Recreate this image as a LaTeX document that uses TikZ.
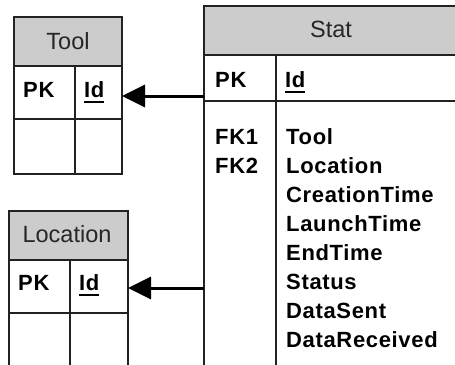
\documentclass[tikz,border=0pt]{standalone}
\usepackage{fontspec}
\setmainfont{Liberation Sans}
\newfontfamily\fldfont{Liberation Sans}[LetterSpace=3]
\usetikzlibrary{arrows.meta}
\definecolor{hdr}{HTML}{CCCCCC}
\definecolor{bord}{HTML}{222222}
\newcommand\ulid[1]{\setbox0\hbox{#1}\rlap{\rule[-5.5pt]{\wd0}{1.8pt}}\box0}
\tikzset{
  cellbox/.style args={#1x#2}{draw=bord, line width=1.6pt, anchor=north west,
    inner sep=0pt, outer sep=0pt, minimum width=#1pt, minimum height=#2pt},
  headfill/.style={fill=hdr},
  headtxt/.style={font=\fontsize{23.5}{26}\selectfont, text=black!85, inner sep=0pt},
  fld/.style={font=\fldfont\fontsize{22}{24}\selectfont\bfseries, anchor=base west, inner sep=0pt},
  rel/.style={line width=3pt, -{Triangle[length=23pt,width=22pt]}}
}
\begin{document}
\begin{tikzpicture}[x=1pt,y=-1pt]
\path[use as bounding box] (0,0) rectangle (455,364);
\clip (0,0) rectangle (455,364);
% Tool table
\node[cellbox=108x49, headfill] (toolhead) at (14,17) {};
\node[headtxt] (tooltitle) at (68,41) {Tool};
\node[cellbox=61x53] (toolpkc) at (14,66) {};
\node[cellbox=47x53] (toolidc) at (75,66) {};
\node[cellbox=61x55] (toolk2) at (14,119) {};
\node[cellbox=47x55] (toolf2) at (75,119) {};
\node[fld] (toolpk) at (23,97) {PK};
\node[fld] (toolid) at (84,97) {\ulid{Id}};
% Location table
\node[cellbox=119x49, headfill] (lochead) at (9,211) {};
\node[headtxt] (loctitle) at (67,234.5) {Location};
\node[cellbox=61x53] (locpkc) at (9,260) {};
\node[cellbox=58x53] (locidc) at (70,260) {};
\node[cellbox=61x70] (lock2) at (9,313) {};
\node[cellbox=58x70] (locf2) at (70,313) {};
\node[fld] (locpk) at (18,290) {PK};
\node[fld] (locid) at (79,290) {\ulid{Id}};
% Stat table
\node[cellbox=262x49, headfill] (stathead) at (204,6) {};
\node[headtxt] (stattitle) at (331,29) {Stat};
\node[cellbox=72x46] (statpkc) at (204,55) {};
\node[cellbox=190x46] (statidc) at (276,55) {};
\node[cellbox=72x290] (statkeys) at (204,101) {};
\node[cellbox=190x290] (statflds) at (276,101) {};
\node[fld] (statpk) at (215,87) {PK};
\node[fld] (statid) at (285,87) {\ulid{Id}};
\node[fld] (fk1) at (215,144) {FK1};
\node[fld] (fk2) at (215,173) {FK2};
\node[fld] (f1) at (286,144) {Tool};
\node[fld] (f2) at (286,173) {Location};
\node[fld] (f3) at (286,202) {CreationTime};
\node[fld] (f4) at (286,231) {LaunchTime};
\node[fld] (f5) at (286,260) {EndTime};
\node[fld] (f6) at (286,289) {Status};
\node[fld] (f7) at (286,318) {DataSent};
\node[fld] (f8) at (286,347) {DataReceived};
% relations
\coordinate (r1) at (204,96);
\coordinate (r2) at (204,288);
\draw[rel] (r1) -- (toolidc.east |- r1);
\draw[rel] (r2) -- (locidc.east |- r2);
\end{tikzpicture}
\end{document}
